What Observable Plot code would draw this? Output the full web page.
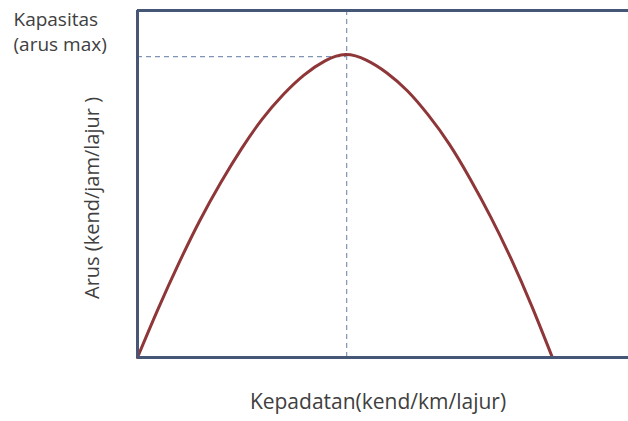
<!DOCTYPE html>
<html>
<head>
<meta charset="utf-8">
<script src="https://cdn.jsdelivr.net/npm/d3@7"></script>
<script src="https://cdn.jsdelivr.net/npm/@observablehq/plot@0.6"></script>
<style>
  html, body { margin: 0; padding: 0; background: #fff; }
  #chart svg { display: block; }
</style>
</head>
<body>
<div id="chart"></div>
<script>
// Density (kend/km/lajur, relative units) and flow (kend/jam/lajur, relative units)
const density = [0, 4.2, 8.5, 12.7, 17.0, 21.2, 25.4, 29.7, 33.9, 38.2, 42.4, 46.6, 50.8, 55.0, 59.2, 63.5, 67.7, 71.9, 76.1, 80.3, 84.5];
const flow    = [0, 14.0, 27.4, 39.5, 50.5, 60.2, 68.7, 75.8, 81.4, 85.5, 87.3, 85.7, 82.0, 76.8, 69.9, 61.5, 51.6, 40.6, 28.4, 14.8, 0];
const criticalDensity = 42.6;
const capacity = 86.7;
const capacityLabel = ["Kapasitas", "(arus max)"];
const yLabel = "Arus (kend/jam/lajur )";
const xLabel = "Kepadatan(kend/km/lajur)";

const curve = density.map((d, i) => ({density: d, flow: flow[i]}));

const frameColor = "#465677";
const textColor = "#404040";
const font = "Open Sans";

const chart = Plot.plot({
  width: 628,
  height: 421,
  marginLeft: 137,
  marginRight: 0,
  marginTop: 10,
  marginBottom: 64,
  style: {fontFamily: font, background: "#fff", overflow: "visible"},
  x: {domain: [0, 100], axis: null},
  y: {domain: [0, 100], axis: null},
  marks: [
    Plot.ruleY([capacity], {x1: 0, x2: criticalDensity, stroke: "#7f93b5", strokeWidth: 1.2, strokeDasharray: "5,4"}),
    Plot.ruleX([criticalDensity], {y1: 0, y2: 100, stroke: "#7f93b5", strokeWidth: 1.2, strokeDasharray: "5,4"}),
    Plot.line(curve, {x: "density", y: "flow", curve: "natural", stroke: "#8e3638", strokeWidth: 3}),
    Plot.ruleY([0, 100], {stroke: frameColor, strokeWidth: 3}),
    Plot.ruleX([0], {stroke: frameColor, strokeWidth: 3}),
    Plot.text([capacityLabel[0]], {frameAnchor: "top-left", dx: -124, dy: 2, textAnchor: "start", lineAnchor: "top", fontSize: 19, fill: textColor}),
    Plot.text([capacityLabel[1]], {frameAnchor: "top-left", dx: -124, dy: 27, textAnchor: "start", lineAnchor: "top", fontSize: 19, fill: textColor}),
    Plot.text([yLabel], {frameAnchor: "left", dx: -45, dy: 14, textAnchor: "middle", lineAnchor: "middle", rotate: -90, fontSize: 20, fill: textColor, letterSpacing: "0.6px"}),
    Plot.text([xLabel], {frameAnchor: "bottom", dx: -5, dy: 45, textAnchor: "middle", lineAnchor: "middle", fontSize: 21, fill: textColor})
  ]
});
document.getElementById("chart").appendChild(chart);
</script>
</body>
</html>
